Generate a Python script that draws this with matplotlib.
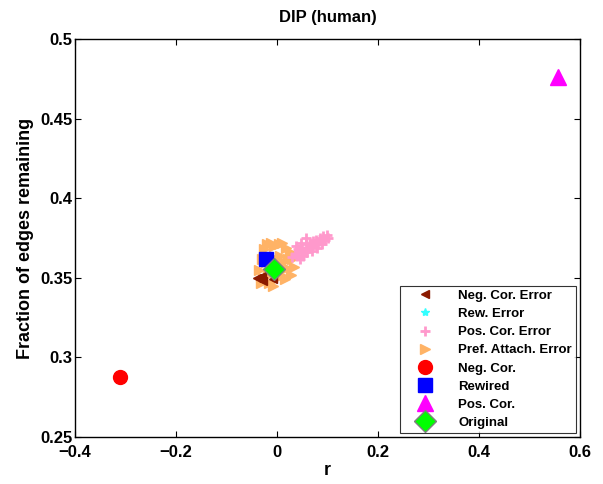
import matplotlib
matplotlib.use("Agg")
import matplotlib.pyplot as plt

plt.rcParams['font.family'] = ['Liberation Sans', 'DejaVu Sans']
plt.rcParams['font.weight'] = 'bold'

# error clouds
pref_x = [-0.035, -0.030, -0.025, -0.020, -0.012, -0.005, 0.003, 0.010, 0.018, 0.025,
          0.030, 0.033, 0.028, 0.020, 0.012, 0.005, -0.002, -0.010, -0.018, -0.028,
          -0.015, -0.008, 0.000, 0.008, 0.015, -0.022, -0.032, 0.022, -0.005, 0.005]
pref_y = [0.355, 0.362, 0.368, 0.371, 0.372, 0.370, 0.371, 0.372, 0.369, 0.366,
          0.362, 0.357, 0.352, 0.356, 0.360, 0.364, 0.362, 0.358, 0.352, 0.350,
          0.347, 0.345, 0.350, 0.352, 0.349, 0.360, 0.347, 0.362, 0.355, 0.357]

pos_err_x = [0.030, 0.035, 0.040, 0.042, 0.047, 0.050, 0.055, 0.058, 0.062, 0.065,
             0.068, 0.072, 0.075, 0.078, 0.082, 0.085, 0.088, 0.092, 0.095, 0.098,
             0.100, 0.045, 0.052, 0.060, 0.070, 0.080, 0.090, 0.038, 0.048, 0.058]
pos_err_y = [0.363, 0.365, 0.364, 0.368, 0.366, 0.369, 0.367, 0.371, 0.369, 0.372,
             0.370, 0.373, 0.371, 0.374, 0.372, 0.375, 0.373, 0.376, 0.374, 0.377,
             0.375, 0.362, 0.364, 0.366, 0.367, 0.369, 0.371, 0.370, 0.372, 0.375]

neg_err_x = [-0.040, -0.033, -0.027, -0.030, -0.008]
neg_err_y = [0.350, 0.349, 0.348, 0.351, 0.349]

rew_err_x = [-0.022, -0.020]
rew_err_y = [0.362, 0.360]

# single networks
neg_x, neg_y = -0.31, 0.288
rew_x, rew_y = -0.022, 0.362
pos_x, pos_y = 0.556, 0.476
orig_x, orig_y = -0.006, 0.3555

fig = plt.figure(figsize=(6.03, 4.84), dpi=100)
ax = fig.add_axes([0.1244, 0.0971, 0.8375, 0.8223])

ax.plot(pref_x, pref_y, '>', color='#ffb366', ms=7, mec='#ffb366', ls='none', zorder=2)
h_neg_err, = ax.plot(neg_err_x, neg_err_y, '<', color='#8b1a00', ms=6, ls='none', zorder=3)
h_rew_err, = ax.plot(rew_err_x, rew_err_y, '*', color='#33ffff', ms=6, ls='none', zorder=2)
h_pos_err, = ax.plot(pos_err_x, pos_err_y, '+', color='#ff99cc', ms=7, mew=2, ls='none', zorder=3)
h_pref, = ax.plot([], [], '>', color='#ffb366', ms=7, ls='none')
h_neg, = ax.plot(neg_x, neg_y, 'o', color='red', ms=10, ls='none', zorder=4)
h_rew, = ax.plot(rew_x, rew_y, 's', color='blue', ms=10, ls='none', zorder=4)
h_pos, = ax.plot(pos_x, pos_y, '^', color='magenta', ms=12, ls='none', zorder=4)
h_orig, = ax.plot(orig_x, orig_y, 'D', color='#00ff00', mec='gray', ms=11, ls='none', zorder=5)

ax.set_xlim(-0.4, 0.6)
ax.set_ylim(0.25, 0.5)
ax.set_xticks([-0.4, -0.2, 0, 0.2, 0.4, 0.6])
ax.set_xticklabels(['\u22120.4', '\u22120.2', '0', '0.2', '0.4', '0.6'])
ax.set_yticks([0.25, 0.3, 0.35, 0.4, 0.45, 0.5])
ax.set_yticklabels(['0.25', '0.3', '0.35', '0.4', '0.45', '0.5'])
ax.tick_params(direction='in', top=True, right=True, labelsize=12, length=4)
ax.tick_params(axis='x', pad=6)
ax.tick_params(axis='y', pad=2)
for s in ax.spines.values():
    s.set_linewidth(1.0)

ax.set_xlabel('r', fontsize=13, fontweight='bold', labelpad=1)
ax.set_ylabel('Fraction of edges remaining', fontsize=13, fontweight='bold', labelpad=4)
ax.set_title('DIP (human)', fontsize=12, fontweight='bold', pad=12)

leg = ax.legend([h_neg_err, h_rew_err, h_pos_err, h_pref, h_neg, h_rew, h_pos, h_orig],
                ['Neg. Cor. Error', 'Rew. Error', 'Pos. Cor. Error', 'Pref. Attach. Error',
                 'Neg. Cor.', 'Rewired', 'Pos. Cor.', 'Original'],
                loc='lower right', fontsize=9.5, frameon=True, fancybox=False,
                edgecolor='black', borderpad=0.3, labelspacing=0.45, handletextpad=0.9,
                handlelength=3.2, borderaxespad=0.3, markerscale=1.0)
leg.get_frame().set_linewidth(0.8)

fig.savefig('out.png', dpi=100)
